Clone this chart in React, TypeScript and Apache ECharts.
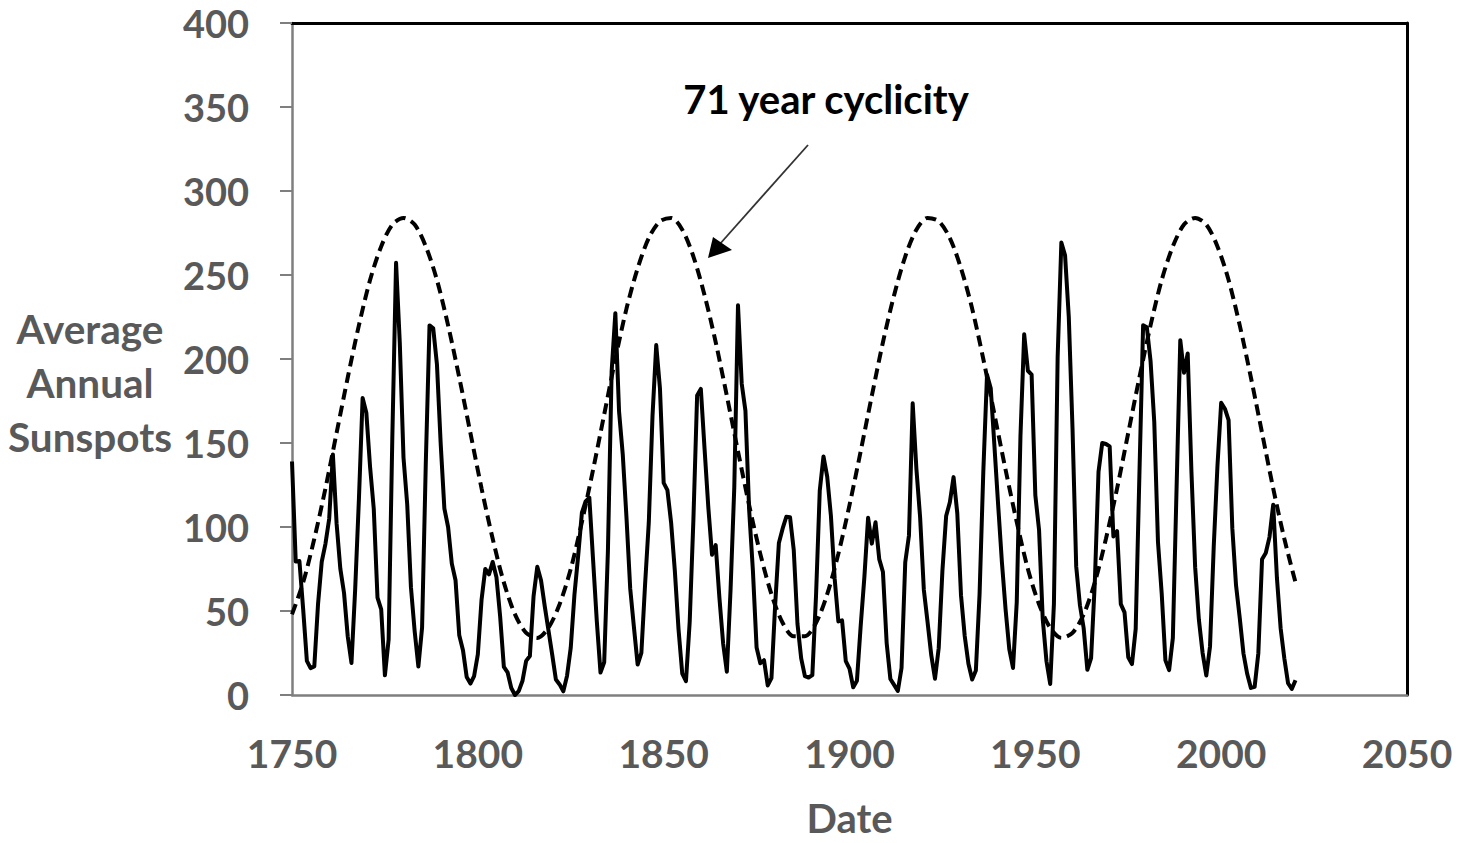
import React, { useEffect, useRef } from "react";
import * as echarts from "echarts";

// Average annual sunspot numbers, 1750–2020
const sunspotStartYear = 1750;
const sunspotValues: number[] = [
  139.0, 79.5, 79.7, 51.2, 20.3, 16.0, 17.0, 54.0, 79.3, 90.0,
  104.8, 143.2, 102.0, 75.2, 60.7, 34.8, 19.0, 63.0, 116.3, 176.8,
  168.0, 136.0, 110.8, 58.0, 51.0, 11.7, 33.0, 154.2, 257.3, 209.8,
  141.3, 113.5, 64.2, 38.0, 17.0, 40.2, 138.2, 220.0, 218.2, 196.8,
  149.8, 111.0, 100.0, 78.2, 68.3, 35.5, 26.7, 10.7, 6.8, 11.3,
  24.2, 56.7, 75.0, 71.8, 79.2, 70.3, 46.8, 16.8, 13.5, 4.2,
  0.0, 2.3, 8.3, 20.3, 23.2, 59.0, 76.3, 68.3, 52.9, 38.5,
  24.2, 9.2, 6.3, 2.2, 11.4, 28.2, 59.9, 83.0, 108.5, 115.2,
  117.4, 80.8, 44.3, 13.4, 19.5, 85.8, 192.7, 227.3, 168.7, 143.0,
  105.5, 63.3, 40.3, 18.1, 25.1, 65.8, 102.7, 166.3, 208.3, 182.5,
  126.3, 122.0, 102.7, 74.1, 39.0, 12.7, 8.2, 43.4, 104.4, 178.3,
  182.2, 146.6, 112.1, 83.5, 89.2, 57.8, 30.7, 13.9, 62.8, 123.6,
  232.0, 185.3, 169.2, 110.1, 74.5, 28.3, 18.9, 20.7, 5.7, 10.0,
  53.7, 90.5, 99.0, 106.1, 105.8, 86.3, 42.4, 21.8, 11.2, 10.4,
  11.8, 59.5, 121.7, 142.0, 130.0, 106.6, 69.4, 43.8, 44.4, 20.2,
  15.7, 4.6, 8.5, 40.8, 70.1, 105.5, 90.1, 102.8, 80.9, 73.2,
  30.9, 9.5, 6.0, 2.4, 16.1, 79.0, 95.0, 173.6, 134.6, 105.7,
  62.7, 43.5, 23.7, 9.7, 27.9, 74.0, 106.5, 114.7, 129.7, 108.2,
  59.4, 35.1, 18.6, 9.2, 14.6, 60.2, 132.8, 190.6, 182.6, 148.0,
  113.0, 79.2, 50.8, 27.1, 16.1, 55.3, 154.3, 214.7, 193.0, 190.7,
  118.9, 98.3, 45.0, 20.1, 6.6, 54.2, 200.7, 269.3, 261.7, 225.1,
  159.0, 76.4, 53.4, 39.9, 15.0, 22.0, 66.8, 132.9, 150.0, 149.4,
  148.0, 94.4, 97.6, 54.1, 49.2, 22.5, 18.4, 39.3, 131.0, 220.1,
  218.9, 198.9, 162.4, 91.0, 60.5, 20.6, 14.8, 33.9, 123.0, 211.1,
  191.8, 203.3, 133.0, 76.1, 44.9, 25.1, 11.6, 28.9, 88.3, 136.3,
  173.9, 170.4, 163.6, 99.3, 65.3, 45.8, 24.7, 12.6, 4.2, 4.8,
  24.9, 80.8, 84.5, 94.0, 113.3, 69.8, 39.8, 21.7, 7.0, 3.6,
  8.8,
];

// 71-year cyclicity envelope, read every 3 years from 1750
const cycleStartYear = 1750;
const cycleStep = 3;
const cycleValues: number[] = [
  48, 67, 93, 123, 156, 189, 220, 247, 267, 280,
  284, 280, 267, 247, 220, 189, 156, 123, 93, 67,
  48, 37, 34, 40, 54, 75, 103, 134, 167, 200,
  230, 254, 272, 282, 284, 277, 261, 238, 210, 178,
  145, 113, 84, 60, 43, 35, 35, 43, 60, 84,
  113, 145, 178, 210, 238, 261, 277, 284, 282, 272,
  254, 230, 200, 167, 134, 103, 75, 54, 40, 34,
  37, 48, 67, 93, 123, 156, 189, 220, 247, 267,
  280, 284, 280, 267, 247, 220, 189, 156, 123, 93,
  67,
];

const xTicks = { min: 1750, max: 2050, interval: 50 };
const yTicks = { min: 0, max: 400, interval: 50 };

const annotationText = "71 year cyclicity";
const xAxisTitle = "Date";
const yAxisTitle = "Average\nAnnual\nSunspots";

const FONT = "Lato, 'Open Sans', 'DejaVu Sans', sans-serif";
const GREY = "#595959";

export default function App() {
  const ref = useRef<HTMLDivElement>(null);

  useEffect(() => {
    if (!ref.current) return;
    const chart = echarts.init(ref.current, undefined, { renderer: "svg" });

    const sunspotData = sunspotValues.map((v, i) => [sunspotStartYear + i, v]);
    const cycleData = cycleValues.map((v, i) => [cycleStartYear + i * cycleStep, v]);

    const labelStyle = {
      fontFamily: FONT,
      fontSize: 38,
      fontWeight: "bold" as const,
      color: GREY,
      lineHeight: 38,
    };

    chart.setOption({
      animation: false,
      backgroundColor: "#ffffff",
      grid: { left: 292, top: 23, right: 66, bottom: 146, containLabel: false },
      xAxis: [
        {
          type: "value",
          min: xTicks.min,
          max: xTicks.max,
          interval: xTicks.interval,
          position: "bottom",
          axisLine: { show: true, lineStyle: { color: "#7f7f7f", width: 2.5 } },
          axisTick: { show: false },
          splitLine: { show: false },
          axisLabel: { ...labelStyle, fontSize: 39, lineHeight: 39, margin: 38, formatter: (v: number) => String(v) },
          name: xAxisTitle,
          nameLocation: "middle",
          nameGap: 103,
          nameTextStyle: { ...labelStyle, fontSize: 40, lineHeight: 40 },
        },
        {
          type: "value",
          min: xTicks.min,
          max: xTicks.max,
          position: "top",
          axisLine: { show: true, onZero: false, lineStyle: { color: "#000000", width: 3 } },
          axisTick: { show: false },
          axisLabel: { show: false },
          splitLine: { show: false },
        },
      ],
      yAxis: [
        {
          type: "value",
          min: yTicks.min,
          max: yTicks.max,
          interval: yTicks.interval,
          position: "left",
          axisLine: { show: true, lineStyle: { color: "#7f7f7f", width: 2.5 } },
          axisTick: { show: true, inside: false, length: 12, lineStyle: { color: "#7f7f7f", width: 2 } },
          splitLine: { show: false },
          axisLabel: { ...labelStyle, margin: 43 },
        },
        {
          type: "value",
          min: yTicks.min,
          max: yTicks.max,
          position: "right",
          axisLine: { show: true, onZero: false, lineStyle: { color: "#000000", width: 3 } },
          axisTick: { show: false },
          axisLabel: { show: false },
          splitLine: { show: false },
        },
      ],
      series: [
        {
          name: "Average Annual Sunspots",
          type: "line",
          data: sunspotData,
          showSymbol: false,
          symbol: "none",
          lineStyle: { color: "#000000", width: 4, join: "round" },
          z: 2,
        },
        {
          name: annotationText,
          type: "line",
          data: cycleData,
          smooth: 0.3,
          showSymbol: false,
          symbol: "none",
          lineStyle: { color: "#000000", width: 4, type: [11, 6] },
          z: 3,
        },
      ],
      graphic: [
        {
          type: "text",
          x: 90,
          y: 382,
          style: {
            text: yAxisTitle,
            fontFamily: FONT,
            fontSize: 40.5,
            fontWeight: "bold",
            fill: GREY,
            align: "center",
            verticalAlign: "middle",
            lineHeight: 54,
          },
        },
        {
          type: "text",
          x: 826,
          y: 99,
          style: {
            text: annotationText,
            fontFamily: FONT,
            fontSize: 40,
            fontWeight: "bold",
            fill: "#000000",
            align: "center",
            verticalAlign: "middle",
          },
        },
        {
          type: "line",
          shape: { x1: 808, y1: 145, x2: 719, y2: 245 },
          style: { stroke: "#333333", lineWidth: 1.8 },
        },
        {
          type: "polygon",
          shape: { points: [[708, 258], [713, 237], [732, 250]] },
          style: { fill: "#000000" },
        },
      ],
    });

    return () => chart.dispose();
  }, []);

  return (
    <div
      ref={ref}
      style={{ position: "fixed", left: 0, top: 0, width: 1473, height: 843, background: "#fff" }}
    />
  );
}
